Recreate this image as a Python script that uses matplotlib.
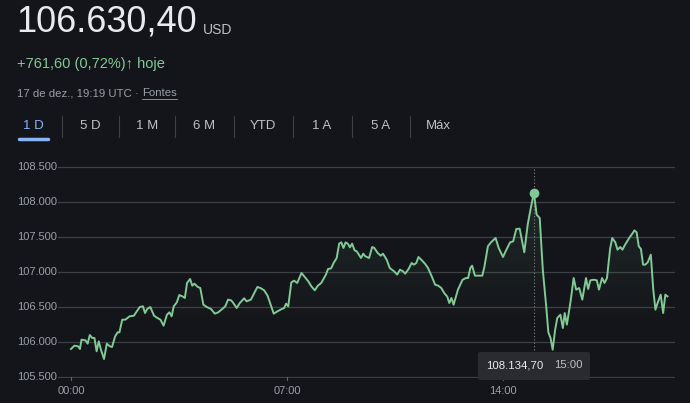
import matplotlib
matplotlib.use("Agg")
import matplotlib.pyplot as plt
import numpy as np
from matplotlib.patches import FancyBboxPatch, Polygon

hours = [0,.11,.23,.29,.34,.47,.54,.61,.69,.76,.83,.9,.97,1.07,1.16,1.26,1.33,1.43,1.51,1.57,1.66,1.76,1.9,2.04,2.11,2.23,2.33,2.4,2.47,2.57,
2.69,2.8,2.9,3.0,3.11,3.19,3.26,3.33,3.43,3.51,3.61,3.69,3.76,3.86,3.93,4.0,4.11,4.19,4.29,4.4,
4.54,4.66,4.77,4.9,5.0,5.09,5.19,5.26,5.37,5.47,5.61,5.69,5.83,5.94,6.04,6.14,6.26,6.37,6.47,6.57,
6.69,6.83,6.91,6.97,7.04,7.14,7.23,7.33,7.47,7.54,7.69,7.79,7.9,8.0,8.11,8.26,8.33,8.43,8.51,8.61,
8.69,8.76,8.83,8.9,8.97,9.04,9.11,9.19,9.26,9.4,9.47,9.54,9.66,9.76,9.83,9.94,10.04,10.11,10.23,10.33,
10.47,10.57,10.66,10.76,10.83,10.94,11.04,11.11,11.19,11.26,11.37,11.47,11.57,11.69,11.8,11.9,12.0,12.11,12.19,12.26,
12.33,12.4,12.54,12.69,12.8,12.87,12.94,13.0,13.09,13.19,13.33,13.4,13.51,13.61,13.76,13.86,14.0,14.11,14.23,14.33,
14.43,14.54,14.69,14.8,14.9,15.0,15.09,15.19,15.29,15.4,15.47,15.54,15.61,15.69,15.76,15.86,15.94,16.0,16.07,16.19,
16.29,16.37,16.47,16.57,16.69,16.76,16.83,16.94,17.04,17.11,17.21,17.29,17.37,17.47,17.54,17.64,17.71,17.8,17.87,17.97,
18.09,18.19,18.26,18.33,18.4,18.47,18.54,18.61,18.69,18.79,18.87,18.94,19.01,19.11,19.19,19.26,19.33]

prices = [105900,105948,105938,105900,106033,106024,105976,106100,106057,106057,105867,106009,105890,105757,105976,105938,105929,106081,106138,106138,
106319,106319,106367,106376,106424,106500,106510,106414,106471,106500,
106376,106343,106319,106233,106390,106424,106367,106510,106567,106671,106652,106629,106843,106900,106805,106833,106786,106771,106533,106500,
106471,106405,106424,106471,106510,106605,106595,106557,106486,106557,106624,106581,106605,106700,106786,106771,106738,106662,106533,106405,
106438,106471,106486,106548,106510,106852,106876,106843,106986,106948,106867,106795,106738,106805,106843,106962,107043,107052,107129,107200,
107405,107424,107343,107424,107405,107352,107405,107310,107295,107200,107262,107224,107200,107357,107343,107271,107233,107262,107176,107057,
107010,106962,107033,107010,106976,107043,107129,107105,107129,107214,107167,107119,107057,106938,106819,106805,106771,106690,106652,106557,
106629,106533,106748,106890,106914,106914,107057,107090,106948,106948,106948,107081,107367,107424,107486,107343,107214,107319,107424,107438,
107614,107619,107281,107676,107914,108134.70,107819,107771,107033,106510,106138,106057,105890,106176,106343,106390,106200,106414,106248,106581,
106914,106748,106771,106605,106914,106757,106881,106890,106881,106748,106914,106843,106914,107329,107486,107424,107319,107357,107319,107400,
107486,107548,107595,107567,107367,107329,107105,107105,107138,107248,106748,106462,106557,106676,106414,106676,106652]

yticks = [105500, 106000, 106500, 107000, 107500, 108000, 108500]
ytick_labels = ["105.500", "106.000", "106.500", "107.000", "107.500", "108.000", "108.500"]
xticks = [0, 7, 14]
xtick_labels = ["00:00", "07:00", "14:00"]
tabs = ["1 D", "5 D", "1 M", "6 M", "YTD", "1 A", "5 A", "Máx"]
hover_hour = 15.0
hover_price = 108134.70

BG = "#14151a"
GREEN = "#81c995"
GREY = "#9aa0a6"
W, H = 690, 403
fig = plt.figure(figsize=(6.9, 4.03), dpi=100, facecolor=BG)
FONT = "Liberation Sans"

def fx(px): return px / W
def fy(py): return 1 - py / H

# header
fig.text(fx(16), fy(22), "106.630,40", color="#e8eaed", fontsize=26, family=FONT, va="center")
fig.text(fx(203), fy(30), "USD", color="#bdc1c6", fontsize=10, family=FONT, va="center")
fig.text(fx(17), fy(64), "+761,60 (0,72%)\u2191 hoje", color=GREEN, fontsize=10.5, family=FONT, va="center")
dt = fig.text(fx(17), fy(93), "17 de dez., 19:19 UTC \u00b7 ", color=GREY, fontsize=8.2, family=FONT, va="center")
r = fig.canvas.get_renderer()
x1 = dt.get_window_extent(r).x1
fo = fig.text(x1 / W, fy(93), "Fontes", color=GREY, fontsize=8.2, family=FONT, va="center")
bb = fo.get_window_extent(r)
fig.add_artist(plt.Line2D([bb.x0 / W, bb.x1 / W], [fy(99), fy(99)], color=GREY, lw=0.6))
centers = [33, 90, 147, 204, 263, 322, 381, 438]
for i, (c, t) in enumerate(zip(centers, tabs)):
    fig.text(fx(c), fy(126), t, color="#8ab4f8" if i == 0 else "#bdc1c6", fontsize=9.5,
             family=FONT, ha="center", va="center")
    if i < len(tabs) - 1:
        sx = (c + centers[i + 1]) / 2
        fig.add_artist(plt.Line2D([fx(sx), fx(sx)], [fy(116), fy(137)], color="#3c4043", lw=0.8))
fig.add_artist(plt.Line2D([fx(19), fx(48)], [fy(139), fy(139)], color="#8ab4f8", lw=2.5, solid_capstyle="round"))

# chart axes
ax = fig.add_axes([fx(58), fy(378), fx(675 - 58), fy(155) - fy(378)])
ax.set_facecolor(BG)
pph = (287 - 71) / 7
ax.set_xlim(-13 / pph, (675 - 71) / pph)
ax.set_ylim(105500 - 1 / 0.07, 108500 + 12 / 0.07)
for s in ax.spines.values():
    s.set_visible(False)
ax.set_xticks([]); ax.set_yticks([])
for v, lab in zip(yticks, ytick_labels):
    ax.axhline(v, color="#3c4043", lw=0.9, zorder=1)
    ax.text(-13 / pph - 1 / pph, v, lab, color=GREY, fontsize=8, family=FONT, ha="right", va="center")
for v, lab in zip(xticks, xtick_labels):
    ax.plot([v, v], [105500 - 3 / 0.07, 105500], color="#5f6368", lw=0.8, clip_on=False)
    ax.text(v, 105500 - 14 / 0.07, lab, color=GREY, fontsize=8, family=FONT, ha="center", va="center")

h = np.array(hours); p = np.array(prices)
base = 106200
grad = np.linspace(0, 1, 256).reshape(-1, 1)
cmap = matplotlib.colors.LinearSegmentedColormap.from_list("g", [(0.5, 0.79, 0.58, 0.0), (0.5, 0.79, 0.58, 0.12)])
im = ax.imshow(grad, extent=[h[0], h[-1], base, p.max()], origin="lower", aspect="auto", cmap=cmap, zorder=2)
poly = Polygon(np.column_stack([np.r_[h, h[-1], h[0]], np.r_[p, base, base]]), closed=True, transform=ax.transData, visible=False)
ax.add_patch(poly)
im.set_clip_path(poly)
ax.plot(h, p, color=GREEN, lw=1.4, zorder=3)
ax.plot([hover_hour, hover_hour], [105880, 108500], color="#80868b", lw=0.8, ls=(0, (1, 2)), zorder=2)
ax.plot(hover_hour, hover_price, "o", color=GREEN, ms=6, zorder=4)

tb = FancyBboxPatch((fx(478), fy(380)), fx(112), fy(352) - fy(380), boxstyle="round,pad=0,rounding_size=0.004",
                    transform=fig.transFigure, facecolor="#2a2b30", edgecolor="none", zorder=5)
fig.add_artist(tb)
fig.text(fx(486), fy(365), "108.134,70", color="#e8eaed", fontsize=8.2, family=FONT, va="center", zorder=6)
fig.text(fx(554), fy(365), "15:00", color="#bdc1c6", fontsize=8.2, family=FONT, va="center", zorder=6)

fig.savefig("out.png", dpi=100, facecolor=BG)
